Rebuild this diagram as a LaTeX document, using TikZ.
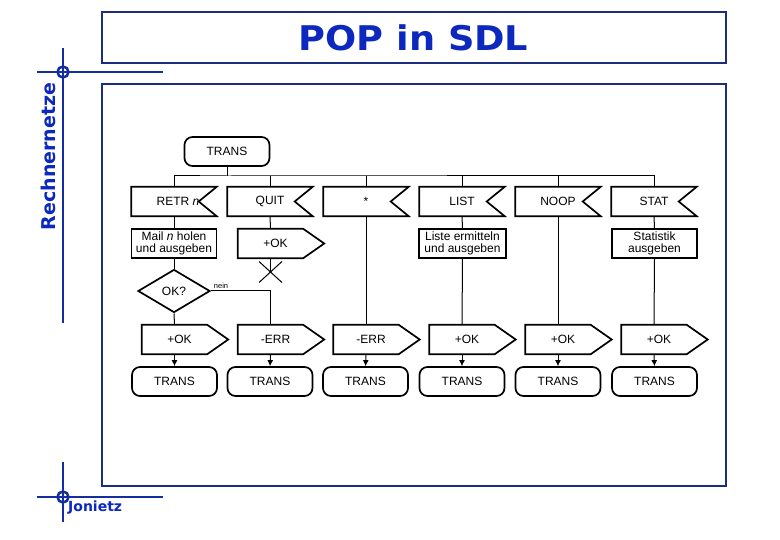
\documentclass[tikz,border=0pt]{standalone}
\usepackage{fontspec}
\setmainfont{Liberation Sans}
\newfontfamily\titlefont{DejaVu Sans}
\usetikzlibrary{shapes.geometric,arrows.meta}
\definecolor{ttlblue}{RGB}{12,40,190}
\definecolor{framenavy}{RGB}{28,45,125}
\definecolor{crossblue}{RGB}{20,45,160}
\tikzset{
  shapeline/.style={draw=black,line width=1.7pt,line join=miter},
  conn/.style={draw=black,line width=1pt},
  flow/.style={conn,-{Latex[length=6pt,width=6pt]}},
  statebox/.style={shapeline,rounded corners=8pt,minimum width=85pt,minimum height=29pt,inner sep=0pt,font=\fontsize{12}{13}\selectfont},
  inbox/.style={minimum width=85pt,minimum height=29pt,inner sep=0pt,font=\fontsize{12}{13}\selectfont},
  outbox/.style={minimum width=65pt,minimum height=29pt,inner sep=0pt,font=\fontsize{12}{13}\selectfont},
  taskbox/.style={shapeline,minimum width=85pt,minimum height=29pt,inner sep=0pt,align=center,font=\fontsize{12}{12.5}\selectfont},
  decbox/.style={shapeline,shape=diamond,minimum width=72pt,minimum height=43pt,inner sep=0pt,font=\fontsize{12}{13}\selectfont},
  framebox/.style={draw=framenavy,line width=1.2pt},
  crossline/.style={draw=crossblue,line width=2.5pt},
}
\newcommand\sdlin[1]{\draw[shapeline] (#1.north west) -- (#1.north east) -- ([xshift=-18pt]#1.east) -- (#1.south east) -- (#1.south west) -- cycle;}
\newcommand\sdlout[1]{\draw[shapeline] (#1.north west) -- (#1.north east) -- ([xshift=21pt]#1.east) -- (#1.south east) -- (#1.south west) -- cycle;}
\begin{document}
\begin{tikzpicture}[x=1pt,y=-1pt]
\useasboundingbox (0,0) rectangle (780,540);
\fill[white] (0,0) rectangle (780,540);
% frames
\draw[framebox] (102,12) rectangle (726,63);
\draw[framebox] (102,84) rectangle (726,486);
% crosshairs
\draw[crossline] (63,48) -- (63,323);
\draw[crossline] (37,72) -- (163,72);
\draw[crossline] (63,72) circle (5.5);
\draw[crossline] (63,462) -- (63,522);
\draw[crossline] (37,497) -- (163,497);
\draw[crossline] (63,497) circle (5.5);
% title texts
\node[text=ttlblue,font=\titlefont\bfseries\fontsize{34}{36}\selectfont] (title) at (413.5,38) {\scalebox{1.08}[1]{POP in SDL}};
\node[text=ttlblue,font=\titlefont\bfseries\fontsize{19}{20}\selectfont,rotate=90] (side) at (48,156.5) {Rechnernetze};
\node[text=ttlblue,font=\titlefont\bfseries\fontsize{14}{16}\selectfont,anchor=west,inner sep=0pt] (author) at (68,508) {Jonietz};
% top state
\node[statebox] (top) at (227,151.5) {TRANS};
\coordinate (bus) at (227,176);
% inputs
\node[inbox] (in1) at (174,201.5) {\hspace*{8pt}RETR \textit{n}};
\node[inbox] (in2) at (270,201.5) {QUIT};
\node[inbox] (in3) at (366,201.5) {*};
\node[inbox] (in4) at (462,201.5) {LIST};
\node[inbox] (in5) at (558,201.5) {NOOP};
\node[inbox] (in6) at (654,201.5) {STAT};
\foreach \n in {in1,in2,in3,in4,in5,in6}{\sdlin{\n}}
% second row
\node[taskbox] (task1) at (174,243.5) {Mail \textit{n} holen\\und ausgeben};
\node[outbox] (out2) at (270.5,243.5) {\hspace*{10pt}+OK};
\sdlout{out2}
\node[taskbox,minimum width=87pt] (task4) at (462.5,243.5) {Liste ermitteln\\und ausgeben};
\node[taskbox] (task6) at (654.5,243.5) {Statistik\\ausgeben};
% stop
\coordinate (stop) at (270.5,272);
\draw[conn] ([shift={(-11.5,-10.5)}]stop) -- ([shift={(11.5,10.5)}]stop);
\draw[conn] ([shift={(-11.5,10.5)}]stop) -- ([shift={(11.5,-10.5)}]stop);
% decision
\node[decbox] (dec) at (174,291) {OK?};
\node[font=\fontsize{7.5}{8}\selectfont,inner sep=0pt] (nein) at (221,286) {nein};
% bottom outputs
\node[outbox] (ob1) at (174.5,339.5) {\hspace*{10pt}+OK};
\node[outbox] (ob2) at (270.5,339.5) {\hspace*{10pt}-ERR};
\node[outbox] (ob3) at (366,339.5) {\hspace*{10pt}-ERR};
\node[outbox] (ob4) at (462,339.5) {\hspace*{10pt}+OK};
\node[outbox] (ob5) at (558,339.5) {\hspace*{10pt}+OK};
\node[outbox] (ob6) at (654,339.5) {\hspace*{10pt}+OK};
\foreach \n in {ob1,ob2,ob3,ob4,ob5,ob6}{\sdlout{\n}}
% bottom states
\node[statebox] (tb1) at (174.5,381.5) {TRANS};
\node[statebox] (tb2) at (270,381.5) {TRANS};
\node[statebox] (tb3) at (365.5,381.5) {TRANS};
\node[statebox] (tb4) at (462,381.5) {TRANS};
\node[statebox] (tb5) at (558,381.5) {TRANS};
\node[statebox] (tb6) at (654.5,381.5) {TRANS};
% connectors
\draw[conn] (top.south) -- (bus);
\draw[conn] (in1.north) |- (bus) -| (in6.north);
\foreach \n in {in2,in3,in4,in5}{\draw[conn] (\n.north) -- (\n.north |- bus);}
\draw[conn] (in1.south) -- (task1.north);
\draw[conn] (task1.south) -- (dec.north);
\draw[conn] (dec.south) -- (ob1.north);
\draw[conn] (dec.east) -| (ob2.north);
\draw[conn] (in2.south) -- (out2.north);
\draw[conn] (out2.south) -- (stop);
\draw[conn] (in3.south) -- (ob3.north);
\draw[conn] (in4.south) -- (task4.north);
\draw[conn] (task4.south) -- (ob4.north);
\draw[conn] (in5.south) -- (ob5.north);
\draw[conn] (in6.south) -- (task6.north);
\draw[conn] (task6.south) -- (ob6.north);
\foreach \i in {1,...,6}{\draw[flow] (ob\i.south) -- (tb\i.north);}
\end{tikzpicture}
\end{document}
